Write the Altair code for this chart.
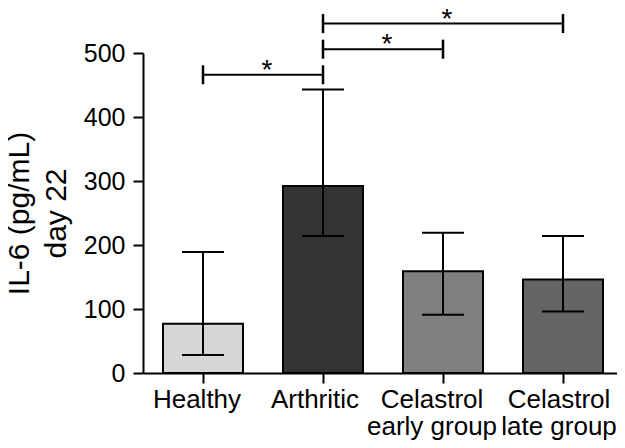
import altair as alt
import pandas as pd

# ---- data ----
groups = ["Healthy", "Arthritic", "Celastrol\nearly group", "Celastrol\nlate group"]
means = [77, 292, 159, 146]
err_upper = [189, 443, 219, 214]
err_lower = [28, 214, 91, 96]
bar_colors = ["#d6d6d6", "#333333", "#808080", "#646464"]

# significance comparisons (group index from -> to, bracket level in data units)
cmp_from = [0, 1, 1]
cmp_to = [1, 2, 3]
cmp_level = [466, 506, 546]
cmp_label = ["*", "*", "*"]

y_ticks = [0, 100, 200, 300, 400, 500]
y_title = ["IL-6 (pg/mL)", "day 22"]

FONT = "Liberation Sans"

df = pd.DataFrame({"group": groups, "mean": means, "upper": err_upper, "lower": err_lower})
cmp_df = pd.DataFrame({
    "x1": cmp_from, "x2": cmp_to, "level": cmp_level, "label": cmp_label,
    "mid": [(a + b) / 2 for a, b in zip(cmp_from, cmp_to)],
})
ends_df = pd.DataFrame({
    "x": cmp_from + cmp_to,
    "level": cmp_level + cmp_level,
})

yscale = alt.Scale(domain=[0, 500], nice=False, zero=True)
xband = alt.Scale(domain=groups, paddingInner=1/3, paddingOuter=1/6)

label_offset = {
    "condition": [
        {"test": "datum.value == 'Healthy'", "value": -6},
        {"test": "datum.value == 'Arthritic'", "value": -8},
        {"test": "indexof(datum.value, 'early') >= 0", "value": -11},
    ],
    "value": -4,
}

x_enc = alt.X("group:N", sort=groups, scale=xband,
              axis=alt.Axis(title=None, labelAngle=0, labelFontSize=26, labelPadding=3,
                            labelLineHeight=27, labelExpr="split(datum.label, '\\n')",
                            labelOffset=label_offset))
y_axis = alt.Axis(values=y_ticks, title=y_title, labelFontSize=25, labelPadding=8,
                  titleFontSize=30, titleFontWeight="normal", titleLineHeight=37,
                  titlePadding=12)

base = alt.Chart(df)
bars = base.mark_bar(stroke="black", strokeWidth=2).encode(
    x=x_enc,
    y=alt.Y("mean:Q", scale=yscale, axis=y_axis),
    color=alt.Color("group:N", scale=alt.Scale(domain=groups, range=bar_colors), legend=None),
)
err = base.mark_rule(color="black", strokeWidth=2).encode(
    x=alt.X("group:N", sort=groups, scale=xband),
    y=alt.Y("lower:Q", scale=yscale),
    y2="upper:Q",
)
cap_lo = base.mark_tick(color="black", size=42, thickness=2, orient="horizontal", opacity=1).encode(
    x=alt.X("group:N", sort=groups, scale=xband),
    y=alt.Y("lower:Q", scale=yscale),
)
cap_hi = base.mark_tick(color="black", size=42, thickness=2, orient="horizontal", opacity=1).encode(
    x=alt.X("group:N", sort=groups, scale=xband),
    y=alt.Y("upper:Q", scale=yscale),
)
main = alt.layer(bars, err, cap_lo, cap_hi)

xq = alt.Scale(domain=[-0.5, len(groups) - 0.5], nice=False, zero=False)
brackets = alt.Chart(cmp_df).mark_rule(color="black", strokeWidth=2).encode(
    x=alt.X("x1:Q", scale=xq, axis=None),
    x2="x2:Q",
    y=alt.Y("level:Q", scale=yscale),
)
ends = alt.Chart(ends_df).mark_tick(color="black", orient="vertical", size=19, thickness=2.5, opacity=1).encode(
    x=alt.X("x:Q", scale=xq, axis=None),
    y=alt.Y("level:Q", scale=yscale),
)
stars = alt.Chart(cmp_df).mark_text(fontSize=28, font=FONT, baseline="alphabetic", dy=4, dx=4, color="black").encode(
    x=alt.X("mid:Q", scale=xq, axis=None),
    y=alt.Y("level:Q", scale=yscale),
    text="label:N",
)
annot = alt.layer(brackets, ends, stars)

chart = alt.layer(main, annot).resolve_scale(x="independent").properties(
    width=480, height=320,
    autosize=alt.AutoSizeParams(type="none"),
    padding={"left": 135, "top": 45, "right": -6, "bottom": 67},
).configure_axis(
    domainColor="black", domainWidth=2, tickColor="black", tickWidth=2, tickSize=10,
    labelColor="black", titleColor="black", labelFont=FONT, titleFont=FONT, grid=False,
).configure_view(stroke=None)

chart.save("out.html", embed_options={"renderer": "svg", "actions": False})
